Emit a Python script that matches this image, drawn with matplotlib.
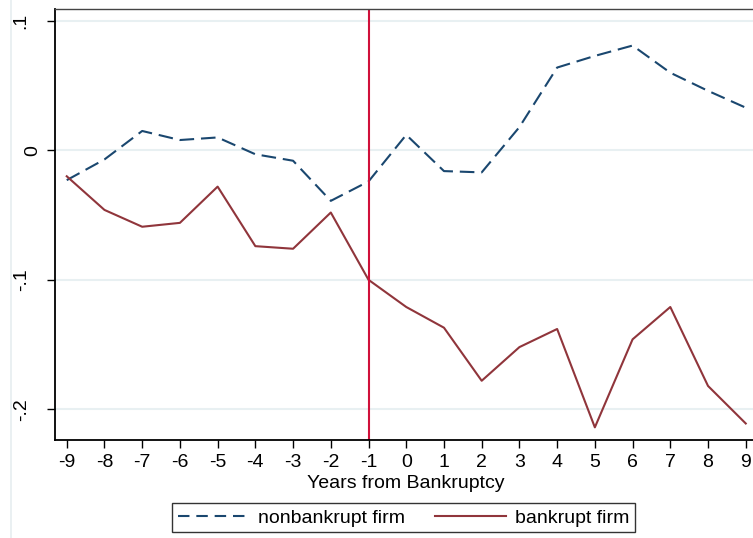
import matplotlib
matplotlib.use("Agg")
import matplotlib.pyplot as plt
from matplotlib.lines import Line2D
from matplotlib.transforms import ScaledTranslation

# event-time profile around bankruptcy
years = [-9, -8, -7, -6, -5, -4, -3, -2, -1, 0, 1, 2, 3, 4, 5, 6, 7, 8, 9]
nonbankrupt = [-0.023, -0.007, 0.015, 0.008, 0.010, -0.003, -0.008, -0.039, -0.024,
               0.012, -0.016, -0.017, 0.018, 0.064, 0.073, 0.081, 0.060, 0.046, 0.033]
bankrupt = [-0.020, -0.046, -0.059, -0.056, -0.028, -0.074, -0.076, -0.048, -0.100,
            -0.121, -0.137, -0.178, -0.152, -0.138, -0.214, -0.146, -0.121, -0.182, -0.211]
yticks = [0.1, 0.0, -0.1, -0.2]
ytick_labels = [".1", "0", "-.1", "-.2"]
event_year = -1

plt.rcParams["font.family"] = ["Liberation Sans", "DejaVu Sans"]
FS = 14

fig = plt.figure(figsize=(7.53, 5.38), dpi=100)
ax = fig.add_axes([0.0726, 0.1816, 0.9338, 0.8011])

# light frame of the graph region on the left
fig.add_artist(Line2D([0.0146, 0.0146], [0.0, 1.0], transform=fig.transFigure,
                      color="#e6eef0", lw=1.2))

ax.plot(years, nonbankrupt, color="#1a476f", lw=1.5, dashes=(7, 3.3),
        label="nonbankrupt firm")
ax.plot(years, bankrupt, color="#90353b", lw=1.5, label="bankrupt firm")
ax.axvline(event_year, color="#d0103a", lw=1.5)

ax.set_xlim(-9.32, 9.32)
ax.set_ylim(-0.224, 0.109)
ax.set_xticks(years)
ax.set_xticklabels([str(y) for y in years], fontsize=FS)
ax.set_yticks(yticks)
ax.set_yticklabels(ytick_labels, fontsize=FS, rotation=90, va="center")
ax.tick_params(direction="out", length=6, width=1, colors="black")
ax.tick_params(axis="x", pad=4)
ax.tick_params(axis="y", pad=12)
# the zero label sits closer to its tick
for lab in ax.get_yticklabels():
    if lab.get_text() == "0":
        lab.set_transform(lab.get_transform() + ScaledTranslation(8 / 72, 0, fig.dpi_scale_trans))
ax.grid(axis="y", color="#e8f0f2", lw=1.5)
ax.set_axisbelow(True)

ax.spines["right"].set_visible(False)
ax.spines["left"].set_linewidth(1.3)
ax.spines["bottom"].set_linewidth(1.3)
ax.spines["top"].set_color("#444444")
ax.spines["top"].set_linewidth(1.0)

ax.set_xlabel("Years from Bankruptcy", fontsize=FS, labelpad=3)

leg = fig.legend(loc="center", bbox_to_anchor=(0.536, 0.0375), ncol=2,
                 fontsize=FS, frameon=True, fancybox=False, handlelength=3.7,
                 columnspacing=1.5, handletextpad=0.45, borderpad=0.3,
                 borderaxespad=0)
leg.get_frame().set_edgecolor("black")
leg.get_frame().set_linewidth(1.0)
for h in leg.get_lines():
    if h.get_label() == "nonbankrupt firm":
        h.set_dashes((5.5, 3.3))

fig.savefig("out.png", dpi=100)
